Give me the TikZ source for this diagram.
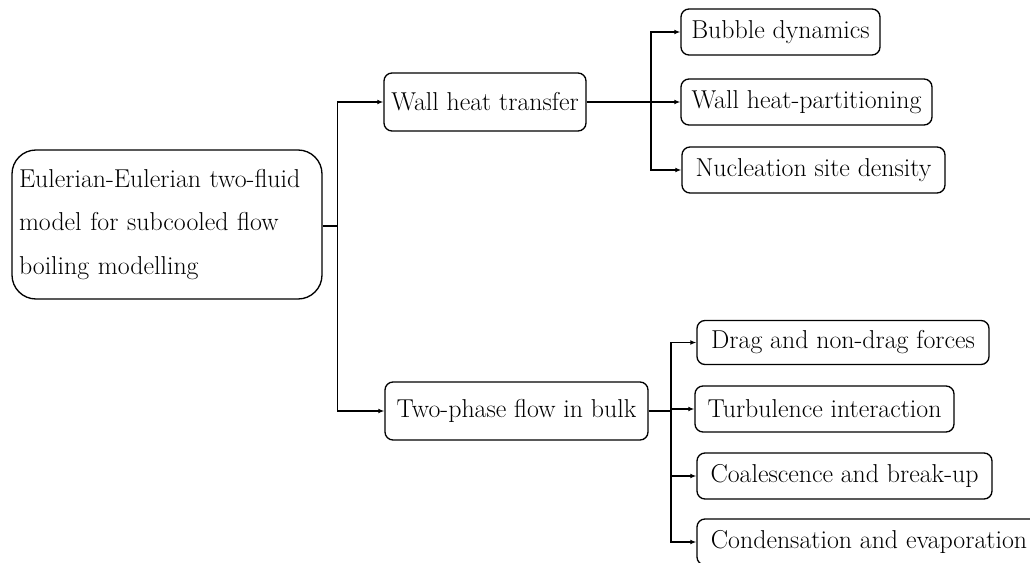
\documentclass[tikz,border=0pt]{standalone}
\usetikzlibrary{arrows.meta}
\begin{document}
\begin{tikzpicture}[x=0.75pt,y=-0.75pt,
  box/.style={draw, line width=1pt, rounded corners=6pt, inner sep=0pt, font=\fontsize{19.4}{32.6}\selectfont, anchor=center},
  arr/.style={line width=1pt, -{Latex[length=4.5pt,width=3.6pt]}},
  con/.style={line width=1pt}]
\useasboundingbox (0,0) rectangle (1030,563);
% nodes
\node[box, rounded corners=18pt, minimum width=232.5pt, minimum height=111.75pt, text width=222pt, align=left] (root) at (167,224.5)
  {Eulerian-Eulerian two-fluid\\ model for subcooled flow\\ boiling modelling};
\node[box, minimum width=151.5pt, minimum height=43.5pt] (wht) at (485,102) {Wall heat transfer};
\node[box, minimum width=197.25pt, minimum height=43.5pt] (tpfb) at (516.5,411) {Two-phase flow in bulk};
\node[box, minimum width=149.25pt, minimum height=34.5pt] (bd) at (780.5,32) {Bubble dynamics};
\node[box, minimum width=188.25pt, minimum height=34.5pt] (whp) at (806.5,102) {Wall heat-partitioning};
\node[box, minimum width=197.25pt, minimum height=34.5pt] (nsd) at (813.5,170) {Nucleation site density};
\node[box, minimum width=219pt, minimum height=33pt] (drag) at (843,342.5) {Drag and non-drag forces};
\node[box, minimum width=194.25pt, minimum height=34.5pt] (turb) at (824.5,409) {Turbulence interaction};
\node[box, minimum width=221.25pt, minimum height=34.5pt] (coal) at (844.5,476) {Coalescence and break-up};
\node[box, minimum width=258pt, minimum height=34.5pt] (cond) at (869,542) {Condensation and evaporation};
% connectors
\coordinate (j0) at (337.5,226);
\draw[con] (root.east |- j0) -- (j0);
\draw[arr] (j0) |- (wht.west);
\draw[arr] (j0) |- (tpfb.west);
\coordinate (j1) at (651,102);
\draw[arr] (wht.east) -- (whp.west);
\draw[arr] (j1) |- (bd.west);
\draw[arr] (j1) |- (nsd.west);
\coordinate (j2) at (671,411);
\draw[arr] (tpfb.east) -- (tpfb.east -| j2) |- (turb.west);
\draw[arr] (j2) |- (drag.west);
\draw[arr] (j2) |- (coal.west);
\draw[arr] (j2) |- (cond.west);
\end{tikzpicture}
\end{document}
